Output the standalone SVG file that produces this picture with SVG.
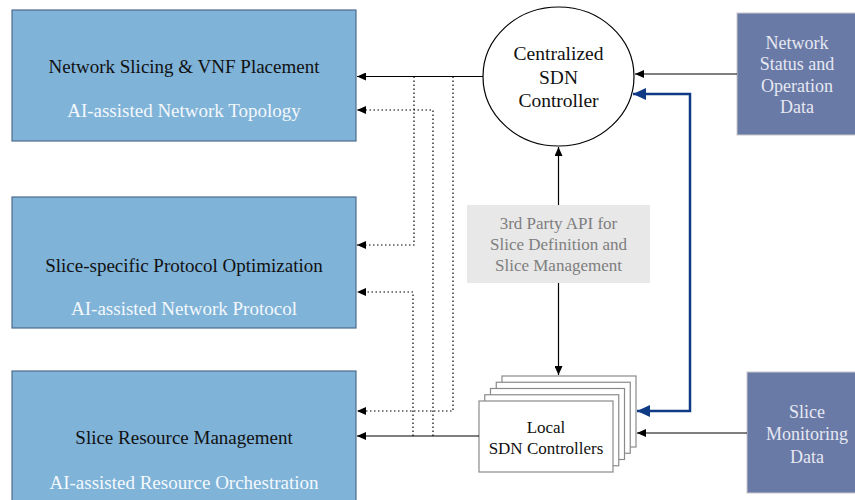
<svg xmlns="http://www.w3.org/2000/svg" width="855" height="500" viewBox="0 0 855 500">
  <style>
    .blk { fill: #7fb3d8; stroke: #4d6b8c; stroke-width: 1.2; }
    .side { fill: #6a7aa6; stroke: #c8c8cc; stroke-width: 1; }
    .card { fill: #ffffff; stroke: #8a8a8a; stroke-width: 1.2; }
    .t { font-family: "Liberation Serif", "Times New Roman", serif; text-anchor: middle; }
    .dark { fill: #111111; font-size: 19px; }
    .light { fill: #f4f8fc; font-size: 19px; }
    .ctl { fill: #111111; font-size: 19.5px; }
    .api { fill: #7e7e7e; font-size: 17px; }
    .loc { fill: #111111; font-size: 17px; }
    .sd { fill: #e6e8f2; font-size: 18px; }
    .solid { fill: none; stroke: #000; stroke-width: 1.2; }
    .dot { fill: none; stroke: #000; stroke-width: 1.2; stroke-dasharray: 1.5 2.5; }
    .blue { fill: none; stroke: #0f3a86; stroke-width: 2.5; }
  </style>
  <defs>
    <marker id="ah" markerUnits="userSpaceOnUse" markerWidth="10" markerHeight="8" refX="9" refY="4" orient="auto">
      <path d="M0,0 L9,4 L0,8 z" fill="#000"/>
    </marker>
    <marker id="bh" markerUnits="userSpaceOnUse" markerWidth="14" markerHeight="12" refX="13" refY="6" orient="auto-start-reverse">
      <path d="M0,0 L13,6 L0,12 z" fill="#0f3a86"/>
    </marker>
  </defs>

  <rect width="855" height="500" fill="#ffffff"/>

  <!-- left-hand function blocks -->
  <g id="slicing">
    <rect class="blk" x="12" y="10" width="344" height="131"/>
    <text class="t dark" x="184" y="73">Network Slicing &amp; VNF Placement</text>
    <text class="t light" x="184" y="117">AI-assisted Network Topology</text>
  </g>
  <g id="protocol">
    <rect class="blk" x="12" y="197" width="344" height="131"/>
    <text class="t dark" x="184" y="272">Slice-specific Protocol Optimization</text>
    <text class="t light" x="184" y="315">AI-assisted Network Protocol</text>
  </g>
  <g id="resource">
    <rect class="blk" x="12" y="371" width="344" height="135"/>
    <text class="t dark" x="184" y="444">Slice Resource Management</text>
    <text class="t light" x="184" y="489">AI-assisted Resource Orchestration</text>
  </g>

  <!-- central controller -->
  <g id="central">
    <ellipse cx="558.5" cy="76.5" rx="75.5" ry="69.5" fill="#ffffff" stroke="#000" stroke-width="1.2"/>
    <text class="t ctl" x="558.5" y="60">Centralized</text>
    <text class="t ctl" x="558.5" y="84">SDN</text>
    <text class="t ctl" x="558.5" y="107">Controller</text>
  </g>

  <!-- northbound API -->
  <g id="api">
    <rect x="467" y="205" width="183" height="78" fill="#e8e8e8"/>
    <text class="t api" x="558.5" y="229">3rd Party API for</text>
    <text class="t api" x="558.5" y="250">Slice Definition and</text>
    <text class="t api" x="558.5" y="271">Slice Management</text>
  </g>

  <!-- stack of local controllers -->
  <g id="local">
    <rect class="card" x="502" y="376" width="134" height="71"/>
    <rect class="card" x="496.25" y="382.25" width="134" height="71"/>
    <rect class="card" x="490.5" y="388.5" width="134" height="71"/>
    <rect class="card" x="484.75" y="394.75" width="134" height="71"/>
    <rect class="card" x="479" y="401" width="134" height="71"/>
    <text class="t loc" x="546" y="433">Local</text>
    <text class="t loc" x="546" y="454">SDN Controllers</text>
  </g>

  <!-- data sources -->
  <g id="status">
    <rect class="side" x="737" y="13" width="122" height="122"/>
    <text class="t sd" x="797" y="49">Network</text>
    <text class="t sd" x="797" y="70">Status and</text>
    <text class="t sd" x="797" y="92">Operation</text>
    <text class="t sd" x="797" y="113">Data</text>
  </g>
  <g id="monitoring">
    <rect class="side" x="747" y="372" width="112" height="121"/>
    <text class="t sd" x="807" y="418">Slice</text>
    <text class="t sd" x="807" y="440">Monitoring</text>
    <text class="t sd" x="807" y="463">Data</text>
  </g>

  <!-- connectors -->
  <g id="connectors">
    <path class="solid" d="M483,76.5 L357,76.5" marker-end="url(#ah)"/>
    <path class="solid" d="M737,74 L635,74" marker-end="url(#ah)"/>
    <path class="dot" d="M453,76.5 L453,411 L357,411" marker-end="url(#ah)"/>
    <path class="dot" d="M414,76.5 L414,245 L357,245" marker-end="url(#ah)"/>
    <path class="dot" d="M433,436 L433,110 L357,110" marker-end="url(#ah)"/>
    <path class="dot" d="M413,436 L413,292 L357,292" marker-end="url(#ah)"/>
    <path class="solid" d="M479,436 L357,436" marker-end="url(#ah)"/>
    <path class="solid" d="M558.5,205 L558.5,147" marker-end="url(#ah)"/>
    <path class="solid" d="M558.5,283 L558.5,375" marker-end="url(#ah)"/>
    <path class="solid" d="M747,433 L637,433" marker-end="url(#ah)"/>
    <path class="blue" d="M637,411 L690,411 L690,94 L633,94" marker-start="url(#bh)" marker-end="url(#bh)"/>
  </g>
</svg>
